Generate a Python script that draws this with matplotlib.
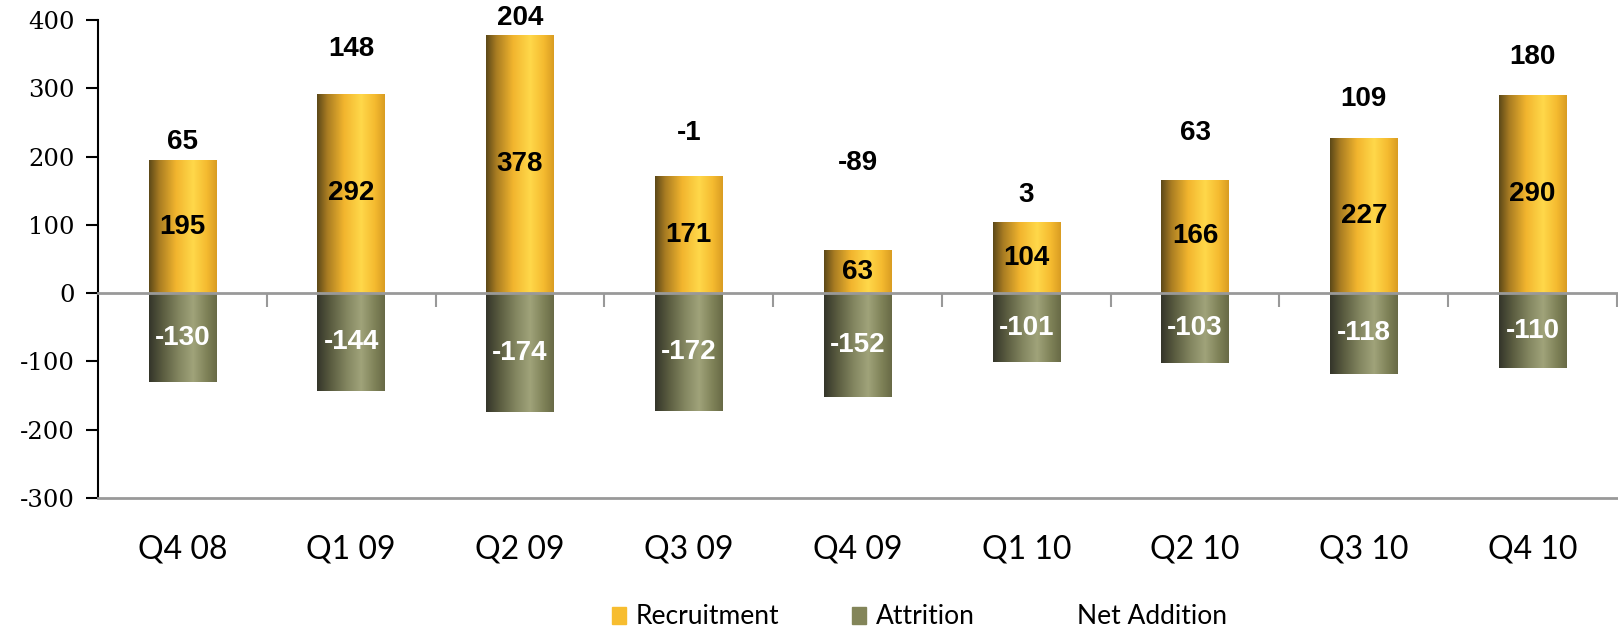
import matplotlib
matplotlib.use("Agg")
import matplotlib.pyplot as plt
import numpy as np
from matplotlib.colors import LinearSegmentedColormap
from matplotlib.patches import Patch
from matplotlib.lines import Line2D

plt.rcParams["axes.unicode_minus"] = False

quarters = ["Q4 08", "Q1 09", "Q2 09", "Q3 09", "Q4 09", "Q1 10", "Q2 10", "Q3 10", "Q4 10"]
recruitment = [195, 292, 378, 171, 63, 104, 166, 227, 290]
attrition = [-130, -144, -174, -172, -152, -101, -103, -118, -110]
net_addition = [65, 148, 204, -1, -89, 3, 63, 109, 180]

# how far above the recruitment bar each net label sits (data units)
net_label_gap = [27, 66, 25, 64, 127, 39, 69, 57, 56]

gold = LinearSegmentedColormap.from_list("gold", [
    (0.0, "#5c4818"), (0.15, "#a87c22"), (0.4, "#f2b52e"),
    (0.65, "#ffd84a"), (0.85, "#f5bb30"), (1.0, "#d99c22")])
olive = LinearSegmentedColormap.from_list("olive", [
    (0.0, "#34352a"), (0.2, "#5a5c40"), (0.45, "#858862"),
    (0.65, "#a0a37a"), (0.85, "#7f8258"), (1.0, "#686a46")])

fig = plt.figure(figsize=(16.18, 6.33), dpi=100)
ax = fig.add_axes([98 / 1618, 1 - 498 / 633, (1617 - 98) / 1618, (498 - 20) / 633])

x = np.arange(len(quarters))
width = 0.4
bars_r = ax.bar(x, recruitment, width, color="#f5bb30", zorder=2)
bars_a = ax.bar(x, attrition, width, color="#858862", zorder=2)

grad = np.linspace(0, 1, 256).reshape(1, -1)


def shade(bars, cmap):
    for b in bars:
        x0, y0 = b.get_x(), b.get_y()
        x1, y1 = x0 + b.get_width(), y0 + b.get_height()
        im = ax.imshow(grad, cmap=cmap, aspect="auto", zorder=3,
                       extent=(x0, x1, min(y0, y1), max(y0, y1)))
        im.set_clip_path(b)


shade(bars_r, gold)
shade(bars_a, olive)

lab = dict(ha="center", va="center", fontsize=20, fontweight="bold",
           family="Liberation Sans", zorder=5)
for i in x:
    ax.text(i, recruitment[i] / 2, str(recruitment[i]), color="black", **lab)
    ax.text(i, attrition[i] / 2, str(attrition[i]), color="white", **lab)
    ax.text(i, recruitment[i] + net_label_gap[i], str(net_addition[i]), color="black", **lab)

ax.set_xlim(-0.5, len(quarters) - 0.5)
ax.set_ylim(-300, 400)
ax.set_yticks(range(-300, 401, 100))
ax.tick_params(axis="y", direction="out", length=9, width=1.5, colors="black",
               labelsize=17.5, pad=8)
for t in ax.get_yticklabels():
    t.set_family("DejaVu Serif")
ax.set_xticks(x)
ax.set_xticklabels(quarters, family="Lato", fontsize=23)
ax.tick_params(axis="x", length=0, pad=26)

for s in ["top", "right"]:
    ax.spines[s].set_visible(False)
ax.spines["left"].set_color("black")
ax.spines["left"].set_linewidth(1.5)
ax.spines["bottom"].set_color("#999999")
ax.spines["bottom"].set_linewidth(2)

# category axis crossing at zero, ticks between quarters
zero_ax = ax.secondary_xaxis(3 / 7)
zero_ax.set_xticks(np.arange(0.5, len(quarters), 1.0))
zero_ax.tick_params(axis="x", direction="out", length=10, width=1.5,
                    colors="#999999", labelbottom=False, labeltop=False)
zero_ax.spines["bottom"].set_color("#999999")
zero_ax.spines["bottom"].set_linewidth(2)
zero_ax.set_zorder(4)

# legend: two coloured keys, then the net series which has no visible mark
leg_font = {"family": "Lato", "size": 19}
leg_y = 1 - 617 / 633
fig.legend([Patch(color="#f7bd30"), Patch(color="#838559")],
           ["Recruitment", "Attrition"],
           loc="center left", bbox_to_anchor=(612 / 1618, leg_y), ncol=2,
           frameon=False, prop=leg_font, borderpad=0, borderaxespad=0,
           handlelength=0.53, handleheight=0.6, handletextpad=0.38,
           columnspacing=2.75)
fig.legend([Line2D([], [], linestyle="none")], ["Net Addition"],
           loc="center left", bbox_to_anchor=(1077 / 1618, leg_y),
           frameon=False, prop=leg_font, borderpad=0, borderaxespad=0,
           handlelength=0, handletextpad=0)

fig.savefig("out.png", dpi=100)
